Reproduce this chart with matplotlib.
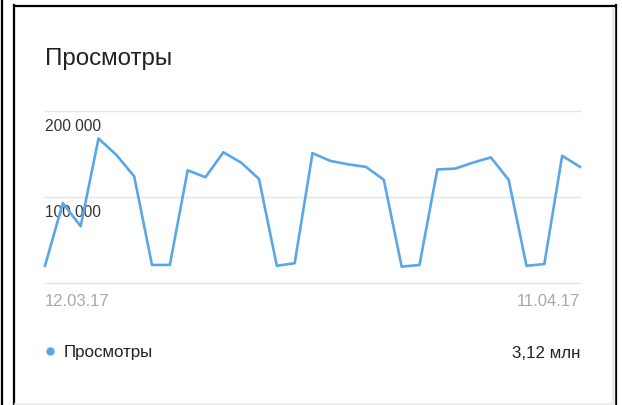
import matplotlib.pyplot as plt
from matplotlib.lines import Line2D

plt.rcParams['font.family'] = ['Liberation Sans', 'DejaVu Sans']

# дневные просмотры 12.03.17 - 11.04.17
days = list(range(31))
views = [20000, 93000, 66000, 168000, 149000, 124000, 21000, 21000, 131000, 123000,
         152000, 140000, 121000, 20000, 23000, 151000, 142000, 138000, 135000, 120000,
         19000, 21000, 132000, 133000, 140000, 146000, 120000, 20000, 22000, 148000, 135000]
y_ticks = [0, 100000, 200000]
y_labels = ['', '100 000', '200 000']
date_labels = ['12.03.17', '11.04.17']
title = 'Просмотры'
total = '3,12 млн'

W, H = 622, 405
fig = plt.figure(figsize=(W / 100, H / 100), dpi=100)
fig.patch.set_facecolor('white')

def fx(px):
    return px / W

def fy(py):
    return 1 - py / H

# рамки
fig.add_artist(Line2D([fx(1.5), fx(1.5)], [1, 0], color='black', lw=1.6))
fig.add_artist(Line2D([fx(14), fx(14)], [fy(5), 0], color='black', lw=1.6))
fig.add_artist(Line2D([fx(14), fx(616)], [fy(5.5), fy(5.5)], color='black', lw=1.6))
fig.add_artist(Line2D([fx(616), fx(616)], [fy(5), 0], color='black', lw=1.6))
fig.add_artist(Line2D([fx(612.5), fx(612.5)], [fy(9), 0], color='#ebebeb', lw=2.5))
fig.add_artist(Line2D([fx(15), fx(612)], [fy(403.5), fy(403.5)], color='#ebebeb', lw=1.2))

ax = fig.add_axes([fx(45), fy(283), fx(580) - fx(45), fy(111) - fy(283)])
ax.set_xlim(0, 30)
ax.set_ylim(0, 200000)
ax.axis('off')

for v, lab in zip(y_ticks, y_labels):
    ax.axhline(v, color='#e3e3e3', lw=1, zorder=1, clip_on=False)
    if lab:
        ax.annotate(lab, (0, v), xytext=(0, -11.3), textcoords='offset points',
                    ha='left', va='center', fontsize=11.2, color='#333333')

ax.plot(days, views, color='#5aa7e8', lw=1.9, zorder=3, clip_on=False)

ax.annotate(date_labels[0], (0, 0), xytext=(0, -13), textcoords='offset points',
            ha='left', va='center', fontsize=12, color='#a8a8a8')
ax.annotate(date_labels[1], (30, 0), xytext=(0, -13), textcoords='offset points',
            ha='right', va='center', fontsize=12, color='#a8a8a8')

fig.text(fx(45), fy(59), title, fontsize=17.4, color='#222222', ha='left', va='center')

fig.add_artist(Line2D([fx(50)], [fy(350.5)], marker='o', markersize=6,
                      color='#5aa7e8', markeredgewidth=0))
fig.text(fx(64), fy(353), title, fontsize=12.2, color='#222222', ha='left', va='center')
fig.text(fx(580), fy(353), total, fontsize=12.2, color='#222222', ha='right', va='center')

fig.savefig('out.png', dpi=100, facecolor='white')
